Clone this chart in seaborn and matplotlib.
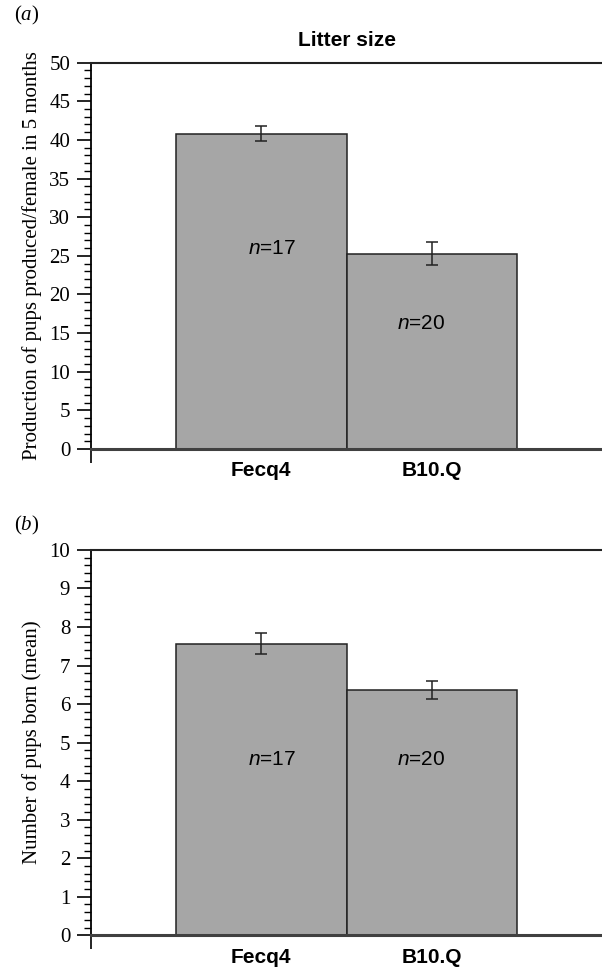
import numpy as np
import pandas as pd
import seaborn as sb
import matplotlib.pyplot as plt
from matplotlib.ticker import MultipleLocator

# data
strains = ["Fecq4", "B10.Q"]
pups_5m = [40.8, 25.3]
pups_5m_se = [1.0, 1.5]
litter_mean = [7.57, 6.37]
litter_se = [0.28, 0.23]
n_labels = ["17", "20"]
n_pos_a = [(0.06, 26.0), (0.94, 16.3)]
n_pos_b = [(0.06, 4.55), (0.94, 4.55)]

sb.set_style("ticks")
plt.rcParams['font.family'] = ['Liberation Serif', 'DejaVu Serif']
plt.rcParams['mathtext.fontset'] = 'custom'
plt.rcParams['mathtext.it'] = 'Liberation Serif:italic'
plt.rcParams['mathtext.sf'] = 'Liberation Sans:italic'
plt.rcParams['text.color'] = 'black'
plt.rcParams['axes.labelcolor'] = 'black'
plt.rcParams['xtick.labelcolor'] = 'black'
plt.rcParams['ytick.labelcolor'] = 'black'

SANS = ['Liberation Sans', 'DejaVu Sans']
GREY = '#a6a6a6'

fig = plt.figure(figsize=(6.02, 9.67), dpi=100)
ax_a = fig.add_axes([0.1512, 0.5357, 0.8488, 0.3995])
ax_b = fig.add_axes([0.1512, 0.0328, 0.8488, 0.3985])


def panel(ax, vals, err, ylabel, ymax, major, minor, npos):
    df = pd.DataFrame({"strain": strains, "val": vals})
    sb.barplot(data=df, x="strain", y="val", width=1.0, color=GREY,
               edgecolor='#222222', linewidth=1.1, saturation=1, ax=ax)
    ax.errorbar(np.arange(len(vals)), vals, yerr=err, fmt='none',
                ecolor='#222222', elinewidth=1.1, capsize=4, capthick=1.1)
    ax.set_xlim(-1, 2)
    ax.set_ylim(0, ymax)
    ax.yaxis.set_major_locator(MultipleLocator(major))
    ax.yaxis.set_minor_locator(MultipleLocator(minor))
    ax.set_xticks([-1], minor=True)
    ax.tick_params(axis='y', which='major', length=10, width=1.2,
                   labelsize=15, pad=5, color='black', labelcolor='black')
    ax.tick_params(axis='y', which='minor', length=5, width=1.0, color='black')
    ax.tick_params(axis='x', which='major', length=0, pad=9, labelcolor='black')
    ax.tick_params(axis='x', which='minor', length=10, width=1.2, color='black')
    for lab in ax.get_xticklabels():
        lab.set_family(SANS)
        lab.set_fontweight('bold')
        lab.set_fontsize(15)
    ax.set_xlabel("")
    ax.set_ylabel(ylabel, fontsize=15, labelpad=5)
    ax.spines['right'].set_visible(False)
    ax.spines['top'].set_visible(True)
    ax.spines['top'].set_linewidth(1.5)
    ax.spines['top'].set_color('#222222')
    ax.spines['left'].set_linewidth(1.3)
    ax.spines['left'].set_color('black')
    ax.spines['bottom'].set_linewidth(2.2)
    ax.spines['bottom'].set_color('#404040')
    for (x, y), n in zip(npos, n_labels):
        ax.text(x, y, r'$\mathsf{n}$=' + n, family=SANS, fontsize=15,
                ha='center', va='center')


panel(ax_a, pups_5m, pups_5m_se,
      "Production of pups produced/female in 5 months", 50, 5, 1, n_pos_a)
ax_a.set_title("Litter size", family=SANS, fontweight='bold', fontsize=15, pad=12)

panel(ax_b, litter_mean, litter_se,
      "Number of pups born (mean)", 10, 1, 0.2, n_pos_b)

fig.text(0.023, 1 - 15 / 967, r'($\mathit{a}$)', fontsize=15, va='center')
fig.text(0.023, 1 - 525 / 967, r'($\mathit{b}$)', fontsize=15, va='center')

fig.savefig("out.png", dpi=100)
